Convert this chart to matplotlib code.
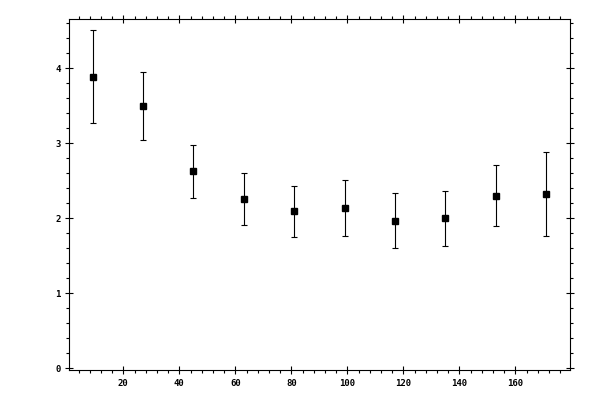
import matplotlib
matplotlib.use('Agg')
import matplotlib.pyplot as plt
from matplotlib.ticker import MultipleLocator

# Values
x = [9, 27, 45, 63, 81, 99, 117, 135, 153, 171]
y = [3.88, 3.49, 2.63, 2.25, 2.09, 2.13, 1.96, 2.00, 2.29, 2.32]
y_hi = [4.51, 3.95, 2.97, 2.60, 2.43, 2.51, 2.34, 2.36, 2.71, 2.88]
y_lo = [3.27, 3.04, 2.27, 1.91, 1.75, 1.76, 1.60, 1.63, 1.89, 1.76]

err_lo = [v - lo for v, lo in zip(y, y_lo)]
err_hi = [hi - v for v, hi in zip(y, y_hi)]

plt.rcParams['font.family'] = 'DejaVu Sans Mono'
plt.rcParams['font.size'] = 6.5

fig, ax = plt.subplots(figsize=(6, 4), dpi=100)
fig.subplots_adjust(left=0.1155, right=0.95, top=0.952, bottom=0.074)

ax.errorbar(x, y, yerr=[err_lo, err_hi], fmt='s', color='black',
            markersize=4.3, elinewidth=0.8, capsize=2, capthick=0.8)

ax.set_xlim(0.7, 179.5)
ax.set_ylim(-0.027, 4.65)

ax.xaxis.set_major_locator(MultipleLocator(20))
ax.xaxis.set_minor_locator(MultipleLocator(4))
ax.yaxis.set_major_locator(MultipleLocator(1))
ax.yaxis.set_minor_locator(MultipleLocator(0.2))

ax.tick_params(which='major', direction='inout', length=6, width=0.8,
               top=True, right=True, labelsize=6.5, pad=3)
ax.tick_params(which='minor', direction='out', length=2.2, width=0.8,
               top=True, right=True)

xticks = [t for t in range(20, 180, 20)]
ax.set_xticks(xticks)
ax.set_xticklabels([str(t) for t in xticks], fontweight='bold')
for lab in ax.get_yticklabels():
    lab.set_fontweight('bold')

for s in ax.spines.values():
    s.set_linewidth(0.8)

plt.savefig('out.png', dpi=100)
